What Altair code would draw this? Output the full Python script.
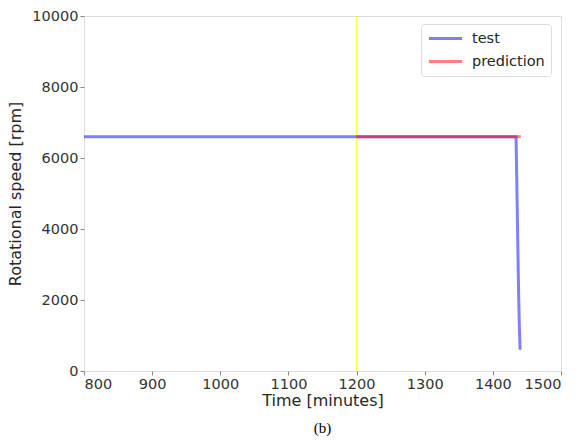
import altair as alt
import pandas as pd

test_time = [800, 1000, 1200, 1434, 1435, 1436, 1437, 1438, 1439, 1440]
test_speed = [6600, 6600, 6600, 6600, 5500, 4300, 3100, 2000, 1150, 600]
pred_time = [1200, 1300, 1441]
pred_speed = [6600, 6600, 6600]
split_time = [1200]

df = pd.concat([
    pd.DataFrame({"t": test_time, "v": test_speed, "s": "test", "o": range(len(test_time))}),
    pd.DataFrame({"t": pred_time, "v": pred_speed, "s": "prediction", "o": range(len(pred_time))}),
])

xs = alt.Scale(domain=[800, 1500], nice=False)
ys = alt.Scale(domain=[0, 10000], nice=False)

axis_common = dict(
    labelFontSize=14.5, titleFontSize=16, labelColor="#333333", titleColor="#262626",
    tickColor="#888888", domain=False, grid=False, tickSize=4, labelFont="DejaVu Sans",
    titleFont="DejaVu Sans", titleFontWeight="normal", format="d",
)

lines = alt.Chart(df).mark_line(strokeWidth=3, opacity=0.5).encode(
    x=alt.X("t:Q", scale=xs, title="Time [minutes]",
            axis=alt.Axis(values=list(range(800, 1501, 100)), titlePadding=2, labelPadding=2, **axis_common)),
    y=alt.Y("v:Q", scale=ys, title="Rotational speed [rpm]",
            axis=alt.Axis(values=list(range(0, 10001, 2000)), titlePadding=8, labelPadding=2, **axis_common)),
    color=alt.Color("s:N", scale=alt.Scale(domain=["test", "prediction"], range=["#0000ff", "#ff0000"]),
                    legend=alt.Legend(title=None, orient="none", legendX=337, legendY=8,
                                      symbolType="stroke", symbolStrokeWidth=3, symbolSize=1100,
                                      symbolOpacity=0.5, labelFontSize=14.5, labelFont="DejaVu Sans",
                                      labelColor="#262626", fillColor="white", strokeColor="#dddddd",
                                      cornerRadius=3, padding=6, rowPadding=6, clipHeight=17,
                                      labelOffset=8)),
    order="o:Q",
    detail="s:N",
)

vline = alt.Chart(pd.DataFrame({"t": split_time})).mark_rule(color="#ffff00", strokeWidth=1.5, opacity=0.8).encode(
    x=alt.X("t:Q", scale=xs)
)

chart = alt.layer(vline, lines).properties(
    width=477, height=355,
    title=alt.TitleParams("(b)", orient="bottom", anchor="middle", font="Liberation Serif",
                          fontSize=15, fontWeight="normal", color="black", offset=12),
    autosize=alt.AutoSizeParams(type="none"),
    padding={"left": 84, "top": 16, "right": 18, "bottom": 72},
).configure_view(stroke="#999999", strokeWidth=1.2).configure(background="white")

chart.save("out.html", embed_options={"renderer": "svg", "actions": False})
